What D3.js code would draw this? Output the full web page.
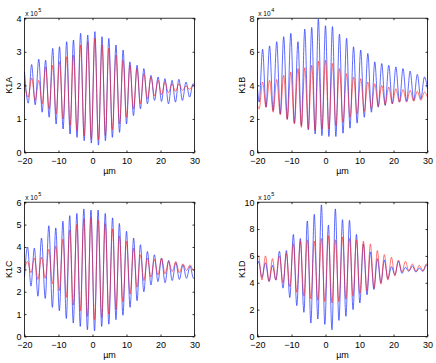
<!DOCTYPE html>
<head>
  <meta charset="utf-8">
  <script src="https://d3js.org/d3.v7.min.js"></script>
  <style>
    body { margin: 0; background: white; }
    text { font-family: "Liberation Sans", Arial, sans-serif; fill: #000; }
  </style>
</head>
<body>
  <div id="chartDiv"></div>
  <script>

  // x axis (um) shared by all four panels
  var xTicks = [-20, -10, 0, 10, 20, 30];

  // K1A  (x 10^5) - extrema
  var k1aX = [-20, -18.9, -17.9, -16.85, -15.8, -14.8, -13.8, -12.75, -11.7, -10.7,
              -9.7, -8.65, -7.6, -6.6, -5.6, -4.55, -3.5, -2.45, -1.4, -0.35,
              0.7, 1.75, 2.8, 3.8, 4.8, 5.85, 6.9, 7.95, 9.0, 10.0,
              11.0, 12.05, 13.1, 14.1, 15.1, 16.15, 17.2, 18.25, 19.3, 20.3,
              21.3, 22.35, 23.4, 24.4, 25.4, 26.45, 27.5, 28.55, 29.6, 30];
  var k1aBlue = [2.40, 1.47, 2.62, 1.42, 2.78, 1.2, 2.75, 1.05, 3.1, 0.85,
                 3.15, 0.7, 3.3, 0.55, 3.35, 0.45, 3.55, 0.35, 3.5, 0.28,
                 3.6, 0.22, 3.45, 0.35, 3.4, 0.45, 3.2, 0.6, 3.05, 0.85,
                 2.7, 1.1, 2.6, 1.3, 2.5, 1.45, 2.3, 1.55, 2.25, 1.52,
                 2.2, 1.45, 2.15, 1.5, 2.18, 1.55, 2.1, 1.65, 2.05, 2.0];
  var k1aRed = [2.05, 1.65, 2.22, 1.55, 2.15, 1.45, 2.55, 1.3, 2.6, 1.15,
                2.7, 1.0, 2.85, 0.8, 2.9, 0.65, 3.2, 0.5, 3.3, 0.4,
                3.4, 0.38, 3.2, 0.5, 3.1, 0.68, 2.9, 0.85, 2.75, 1.05,
                2.6, 1.3, 2.5, 1.45, 2.35, 1.6, 2.25, 1.68, 2.15, 1.72,
                2.1, 1.78, 2.05, 1.82, 2.05, 1.85, 1.98, 1.88, 2.0, 1.98];

  // K1B  (x 10^4)
  var k1bX = [-20, -19.5, -18.5, -17.5, -16.45, -15.4, -14.35, -13.3, -12.3, -11.25,
              -10.2, -9.15, -8.1, -7.1, -6.1, -5.05, -4.05, -3.05, -2.1, -1.05,
              0.0, 1.0, 2.05, 3.05, 4.1, 5.15, 6.2, 7.2, 8.25, 9.3,
              10.35, 11.4, 12.45, 13.5, 14.5, 15.5, 16.55, 17.55, 18.6, 19.65,
              20.7, 21.75, 22.8, 23.85, 24.9, 25.95, 27.0, 28.05, 29.1, 30];
  var k1bBlue = [3.8, 3.0, 6.15, 2.7, 6.35, 2.5, 6.6, 2.3, 6.9, 2.0,
                 7.1, 1.75, 6.6, 1.6, 7.35, 1.35, 7.45, 1.1, 7.95, 1.0,
                 7.55, 0.95, 7.5, 0.95, 7.05, 1.15, 6.8, 1.45, 6.3, 1.75,
                 6.1, 2.1, 5.9, 2.4, 5.4, 2.7, 5.3, 2.8, 5.2, 2.9,
                 5.1, 3.0, 5.0, 3.05, 4.85, 3.1, 4.65, 3.2, 4.5, 3.8];
  var k1bRed = [2.8, 2.6, 4.2, 2.7, 4.3, 2.4, 4.35, 2.25, 4.6, 1.95,
                4.8, 1.7, 5.0, 1.5, 5.05, 1.4, 5.2, 1.3, 5.45, 1.4,
                5.5, 1.4, 5.3, 1.6, 5.0, 1.8, 4.7, 2.1, 4.5, 2.3,
                4.4, 2.45, 4.2, 2.6, 4.1, 2.75, 4.0, 2.85, 3.9, 2.9,
                3.8, 3.0, 3.75, 3.0, 3.7, 3.05, 3.65, 3.1, 3.6, 3.3];

  // K1C  (x 10^5)
  var k1cX = [-20, -19.1, -18.1, -17.1, -16.05, -15.0, -13.9, -12.85, -11.8, -10.8,
              -9.75, -8.7, -7.7, -6.7, -5.65, -4.6, -3.6, -2.55, -1.5, -0.45,
              0.6, 1.65, 2.7, 3.75, 4.8, 5.9, 6.9, 7.9, 8.95, 10.0,
              11.05, 12.1, 13.1, 14.1, 15.1, 16.15, 17.2, 18.2, 19.25, 20.3,
              21.35, 22.4, 23.45, 24.5, 25.55, 26.6, 27.65, 28.7, 29.7, 30];
  var k1cBlue = [2.66, 4.0, 2.25, 3.95, 1.8, 4.4, 1.7, 4.95, 1.3, 4.85,
                 1.15, 5.15, 0.8, 5.4, 0.6, 5.5, 0.45, 5.7, 0.3, 5.65,
                 0.25, 5.65, 0.45, 5.5, 0.55, 5.3, 0.75, 5.05, 0.95, 4.7,
                 1.3, 4.4, 1.6, 4.1, 2.0, 3.8, 2.3, 3.65, 2.45, 3.5,
                 2.4, 3.4, 2.5, 3.3, 2.55, 3.2, 2.6, 3.15, 2.6, 2.6];
  var k1cRed = [3.0, 3.35, 2.85, 3.5, 2.55, 3.55, 2.6, 3.9, 2.35, 4.05,
                2.05, 4.35, 1.75, 4.75, 1.4, 5.0, 1.15, 5.25, 0.9, 5.3,
                0.75, 5.2, 0.85, 5.05, 1.0, 4.8, 1.2, 4.5, 1.55, 4.25,
                1.9, 3.95, 2.2, 3.65, 2.5, 3.5, 2.65, 3.45, 2.75, 3.5,
                2.8, 3.35, 2.9, 3.35, 2.85, 3.25, 2.95, 3.2, 2.95, 3.0];

  // K1D  (x 10^5)
  var k1dX = [-20, -19.7, -18.7, -17.65, -16.6, -15.6, -14.6, -13.55, -12.5, -11.5,
              -10.5, -9.45, -8.45, -7.4, -6.35, -5.35, -4.3, -3.3, -2.25, -1.2,
              -0.2, 0.85, 1.9, 2.9, 3.95, 5.0, 6.0, 7.05, 8.1, 9.1,
              10.1, 11.15, 12.2, 13.2, 14.25, 15.25, 16.3, 17.3, 18.35, 19.4,
              20.4, 21.45, 22.5, 23.5, 24.5, 25.55, 26.6, 27.6, 28.65, 29.65, 30];
  var k1dBlue = [5.4, 5.6, 4.4, 5.5, 4.1, 5.3, 4.2, 6.35, 3.6, 6.4,
                 2.9, 7.6, 2.3, 7.3, 1.8, 8.6, 1.0, 9.1, 1.3, 9.8,
                 0.9, 8.3, 0.5, 9.5, 1.2, 8.7, 1.5, 8.65, 2.0, 7.6,
                 2.5, 6.9, 3.1, 6.3, 3.5, 5.8, 4.0, 5.7, 4.3, 5.2,
                 4.6, 5.6, 4.7, 5.15, 4.85, 5.25, 4.8, 5.1, 4.85, 5.3, 5.3];
  var k1dRed = [6.0, 6.0, 4.2, 6.0, 4.1, 5.8, 4.2, 6.0, 4.0, 6.2,
                3.7, 6.9, 3.3, 7.1, 3.0, 7.2, 2.8, 7.1, 2.7, 7.3,
                2.6, 7.5, 2.5, 7.2, 2.6, 7.4, 2.8, 7.3, 3.0, 7.2,
                3.2, 7.1, 3.4, 6.9, 3.6, 6.4, 3.9, 6.1, 4.2, 5.9,
                4.5, 5.7, 4.8, 5.6, 4.9, 5.4, 4.85, 5.3, 4.9, 5.4, 5.3];

  var panels = [
    {name: "K1A", exp: "5", yMax: 4,  yTicks: [0, 1, 2, 3, 4],        xs: k1aX, blue: k1aBlue, red: k1aRed, left: 24.5,  top: 18.2},
    {name: "K1B", exp: "4", yMax: 8,  yTicks: [0, 2, 4, 6, 8],        xs: k1bX, blue: k1bBlue, red: k1bRed, left: 257.5, top: 18.2},
    {name: "K1C", exp: "5", yMax: 6,  yTicks: [0, 1, 2, 3, 4, 5, 6],  xs: k1cX, blue: k1cBlue, red: k1cRed, left: 24.5,  top: 202.2},
    {name: "K1D", exp: "5", yMax: 10, yTicks: [0, 2, 4, 6, 8, 10],    xs: k1dX, blue: k1dBlue, red: k1dRed, left: 257.5, top: 202.2}
  ];

  var axW = 170;
  var axH = 134.3;

  var svg = d3.select("#chartDiv").append("svg")
    .attr("width", 436)
    .attr("height", 363);

  svg.append("rect")
    .attr("width", 436)
    .attr("height", 363)
    .style("fill", "white");

  function drawPanel(p) {

    var g = svg.append("g")
      .attr("transform", "translate(" + p.left + "," + p.top + ")");

    var x = d3.scaleLinear().domain([-20, 30]).range([0, axW]);
    var y = d3.scaleLinear().domain([0, p.yMax]).range([axH, 0]);

    var line = d3.line()
      .x(function(d, i) { return x(p.xs[i]); })
      .y(function(d) { return y(d); })
      .curve(d3.curveMonotoneX);

    g.append("path")
      .datum(p.blue)
      .attr("d", line)
      .style("fill", "none")
      .style("stroke", "#1a2cff")
      .style("stroke-width", 0.7);

    g.append("path")
      .datum(p.red)
      .attr("d", line)
      .style("fill", "none")
      .style("stroke", "#ff1a1a")
      .style("stroke-width", 0.6);

    // ticks point inwards, MATLAB style, on all four sides
    var bottom = g.append("g")
      .attr("transform", "translate(0," + axH + ")")
      .call(d3.axisBottom(x).tickValues(xTicks).tickSize(-2).tickPadding(5.5)
        .tickFormat(d3.format("d")));
    var top = g.append("g")
      .call(d3.axisTop(x).tickValues(xTicks).tickSize(-2).tickFormat(""));
    var left = g.append("g")
      .call(d3.axisLeft(y).tickValues(p.yTicks).tickSize(-2).tickPadding(3)
        .tickFormat(d3.format("d")));
    var right = g.append("g")
      .attr("transform", "translate(" + axW + ",0)")
      .call(d3.axisRight(y).tickValues(p.yTicks).tickSize(-2).tickFormat(""));

    [bottom, top, left, right].forEach(function(a) {
      a.select(".domain").remove();
      a.selectAll("text")
        .style("font-family", "'Liberation Sans', Arial, sans-serif")
        .style("font-size", "9px");
      a.selectAll("line").style("stroke", "#000").style("stroke-width", 0.8);
    });

    // box
    g.append("rect")
      .attr("x", 0)
      .attr("y", 0)
      .attr("width", axW)
      .attr("height", axH)
      .style("fill", "none")
      .style("stroke", "#000")
      .style("stroke-width", 0.8);

    g.append("text")
      .attr("x", axW / 2)
      .attr("y", axH + 21.5)
      .attr("text-anchor", "middle")
      .style("font-size", "9px")
      .text("\u00b5m");

    g.append("text")
      .attr("transform", "translate(" + (-15.2) + "," + (axH / 2) + ") rotate(-90)")
      .attr("dy", "0.35em")
      .attr("text-anchor", "middle")
      .style("font-size", "9px")
      .text(p.name);

    var expText = g.append("text")
      .attr("x", 0.8)
      .attr("y", -2.5)
      .style("font-size", "6.5px")
      .text("x 10");
    expText.append("tspan")
      .attr("dy", -3.8)
      .attr("dx", 0.6)
      .style("font-size", "5.5px")
      .text(p.exp);
  }

  panels.forEach(function(p) { drawPanel(p); });

  </script>
</body>
